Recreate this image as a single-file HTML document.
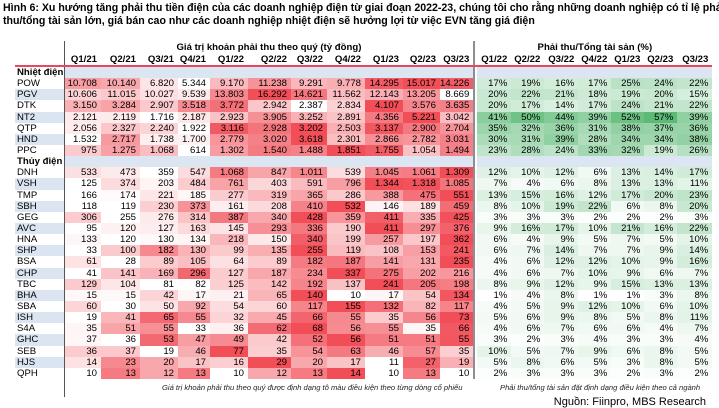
<!DOCTYPE html>
<html><head><meta charset="utf-8">
<style>
html,body{margin:0;padding:0;background:#fff;width:719px;height:408px;overflow:hidden}
body{font-family:"Liberation Sans",Arial,sans-serif;color:#000;position:relative}
.title{position:absolute;left:3px;top:2px;font-size:10.6px;font-weight:bold;line-height:12.5px;width:716px;white-space:nowrap}
table{position:absolute;left:15px;top:41px;border-collapse:collapse;table-layout:fixed;font-size:9.6px}
td{padding:0;height:11.15px;line-height:11px;white-space:nowrap;overflow:hidden}
td.v{text-align:right;padding-right:4px}
td.g{text-align:right;padding-right:4px}
tr.h1 td{height:13px;font-weight:bold;text-align:center}
tr.h2 td{height:11px;font-weight:bold;text-align:right;padding-right:4px;border-bottom:2px solid #e8475f}
td.t{padding-left:2px;text-align:left}
tr.alt td.t{background:#dbe5f1}
tr.sec td{background:#dce6f2}
tr.sec td.t{background:#fff;font-weight:bold}
td.sep{border-left:2px solid #8a8f96;background:#fff!important}
td.lb{border-left:1px solid #555}
.fn{position:absolute;font-size:7.6px;font-style:italic;color:#222;white-space:nowrap}
.src{position:absolute;right:13px;top:396px;font-size:11px;white-space:nowrap}
</style></head><body>
<div class="title">Hình 6: Xu hướng tăng phải thu tiền điện của các doanh nghiệp điện từ giai đoạn 2022-23, chúng tôi cho rằng những doanh nghiệp có tỉ lệ phải<br>thu/tổng tài sản lớn, giá bán cao như các doanh nghiệp nhiệt điện sẽ hưởng lợi từ việc EVN tăng giá điện</div>
<table id="tb">
<colgroup><col style="width:49px"><col style="width:37px"><col style="width:39px"><col style="width:38px"><col style="width:32px"><col style="width:38px"><col style="width:43px"><col style="width:36px"><col style="width:38px"><col style="width:38px"><col style="width:37px"><col style="width:34px"><col style="width:3px"><col style="width:34px"><col style="width:33px"><col style="width:34px"><col style="width:33px"><col style="width:33px"><col style="width:33px"><col style="width:35px"></colgroup>
<tr class="h1"><td></td><td class="lb" colspan="11">Giá trị khoản phải thu theo quý (tỷ đồng)</td><td class="sep"></td><td colspan="7">Phải thu/Tổng tài sản (%)</td></tr>
<tr class="h2"><td style="padding:0"></td><td class="lb">Q1/21</td><td>Q2/21</td><td>Q3/21</td><td>Q4/21</td><td>Q1/22</td><td>Q2/22</td><td>Q3/22</td><td>Q4/22</td><td>Q1/23</td><td>Q2/23</td><td>Q3/23</td><td class="sep" style="padding:0"></td><td>Q1/22</td><td>Q2/22</td><td>Q3/22</td><td>Q4/22</td><td>Q1/23</td><td>Q2/23</td><td>Q3/23</td></tr>
<tr class="sec"><td class="t">Nhiệt điện</td><td class="lb" colspan="11"></td><td class="sep"></td><td colspan="7"></td></tr>
<tr class="r"><td class="t">POW</td><td class="v lb">10.708</td><td class="v">10.140</td><td class="v">6.820</td><td class="v">5.344</td><td class="v">9.170</td><td class="v">11.238</td><td class="v">9.291</td><td class="v">9.778</td><td class="v">14.295</td><td class="v">15.017</td><td class="v">14.226</td><td class="sep"></td><td class="g">17%</td><td class="g">19%</td><td class="g">16%</td><td class="g">17%</td><td class="g">25%</td><td class="g">24%</td><td class="g">22%</td></tr>
<tr class="r alt"><td class="t">PGV</td><td class="v lb">10.606</td><td class="v">11.015</td><td class="v">10.027</td><td class="v">9.539</td><td class="v">13.803</td><td class="v">16.292</td><td class="v">14.621</td><td class="v">11.562</td><td class="v">12.143</td><td class="v">13.205</td><td class="v">8.669</td><td class="sep"></td><td class="g">20%</td><td class="g">22%</td><td class="g">21%</td><td class="g">18%</td><td class="g">19%</td><td class="g">20%</td><td class="g">15%</td></tr>
<tr class="r"><td class="t">DTK</td><td class="v lb">3.150</td><td class="v">3.284</td><td class="v">2.907</td><td class="v">3.518</td><td class="v">3.772</td><td class="v">2.942</td><td class="v">2.387</td><td class="v">2.834</td><td class="v">4.107</td><td class="v">3.576</td><td class="v">3.635</td><td class="sep"></td><td class="g">20%</td><td class="g">17%</td><td class="g">14%</td><td class="g">17%</td><td class="g">24%</td><td class="g">21%</td><td class="g">22%</td></tr>
<tr class="r alt"><td class="t">NT2</td><td class="v lb">2.121</td><td class="v">2.119</td><td class="v">1.716</td><td class="v">2.187</td><td class="v">2.923</td><td class="v">3.905</td><td class="v">3.252</td><td class="v">2.891</td><td class="v">4.356</td><td class="v">5.221</td><td class="v">3.042</td><td class="sep"></td><td class="g">41%</td><td class="g">50%</td><td class="g">44%</td><td class="g">39%</td><td class="g">52%</td><td class="g">57%</td><td class="g">39%</td></tr>
<tr class="r"><td class="t">QTP</td><td class="v lb">2.056</td><td class="v">2.327</td><td class="v">2.240</td><td class="v">1.922</td><td class="v">3.116</td><td class="v">2.928</td><td class="v">3.202</td><td class="v">2.503</td><td class="v">3.137</td><td class="v">2.900</td><td class="v">2.704</td><td class="sep"></td><td class="g">35%</td><td class="g">32%</td><td class="g">36%</td><td class="g">31%</td><td class="g">38%</td><td class="g">37%</td><td class="g">36%</td></tr>
<tr class="r alt"><td class="t">HND</td><td class="v lb">1.532</td><td class="v">2.717</td><td class="v">1.738</td><td class="v">1.700</td><td class="v">2.779</td><td class="v">3.020</td><td class="v">3.618</td><td class="v">2.301</td><td class="v">2.866</td><td class="v">2.782</td><td class="v">3.031</td><td class="sep"></td><td class="g">30%</td><td class="g">31%</td><td class="g">39%</td><td class="g">28%</td><td class="g">34%</td><td class="g">34%</td><td class="g">38%</td></tr>
<tr class="r"><td class="t">PPC</td><td class="v lb">975</td><td class="v">1.275</td><td class="v">1.068</td><td class="v">614</td><td class="v">1.302</td><td class="v">1.540</td><td class="v">1.488</td><td class="v">1.851</td><td class="v">1.755</td><td class="v">1.054</td><td class="v">1.494</td><td class="sep"></td><td class="g">23%</td><td class="g">28%</td><td class="g">24%</td><td class="g">33%</td><td class="g">32%</td><td class="g">19%</td><td class="g">26%</td></tr>
<tr class="sec"><td class="t">Thủy điện</td><td class="lb" colspan="11"></td><td class="sep"></td><td colspan="7"></td></tr>
<tr class="r"><td class="t">DNH</td><td class="v lb">533</td><td class="v">473</td><td class="v">359</td><td class="v">547</td><td class="v">1.068</td><td class="v">847</td><td class="v">1.011</td><td class="v">539</td><td class="v">1.045</td><td class="v">1.061</td><td class="v">1.309</td><td class="sep"></td><td class="g">12%</td><td class="g">10%</td><td class="g">12%</td><td class="g">6%</td><td class="g">13%</td><td class="g">14%</td><td class="g">17%</td></tr>
<tr class="r alt"><td class="t">VSH</td><td class="v lb">125</td><td class="v">374</td><td class="v">203</td><td class="v">484</td><td class="v">761</td><td class="v">403</td><td class="v">591</td><td class="v">796</td><td class="v">1.344</td><td class="v">1.318</td><td class="v">1.085</td><td class="sep"></td><td class="g">7%</td><td class="g">4%</td><td class="g">6%</td><td class="g">8%</td><td class="g">13%</td><td class="g">13%</td><td class="g">11%</td></tr>
<tr class="r"><td class="t">TMP</td><td class="v lb">166</td><td class="v">174</td><td class="v">221</td><td class="v">185</td><td class="v">277</td><td class="v">319</td><td class="v">365</td><td class="v">286</td><td class="v">388</td><td class="v">475</td><td class="v">551</td><td class="sep"></td><td class="g">13%</td><td class="g">15%</td><td class="g">16%</td><td class="g">12%</td><td class="g">17%</td><td class="g">20%</td><td class="g">23%</td></tr>
<tr class="r alt"><td class="t">SBH</td><td class="v lb">118</td><td class="v">119</td><td class="v">230</td><td class="v">373</td><td class="v">161</td><td class="v">208</td><td class="v">410</td><td class="v">532</td><td class="v">146</td><td class="v">189</td><td class="v">459</td><td class="sep"></td><td class="g">8%</td><td class="g">10%</td><td class="g">19%</td><td class="g">22%</td><td class="g">6%</td><td class="g">8%</td><td class="g">20%</td></tr>
<tr class="r"><td class="t">GEG</td><td class="v lb">306</td><td class="v">255</td><td class="v">276</td><td class="v">314</td><td class="v">387</td><td class="v">340</td><td class="v">428</td><td class="v">359</td><td class="v">411</td><td class="v">335</td><td class="v">425</td><td class="sep"></td><td class="g">3%</td><td class="g">3%</td><td class="g">3%</td><td class="g">2%</td><td class="g">2%</td><td class="g">2%</td><td class="g">3%</td></tr>
<tr class="r alt"><td class="t">AVC</td><td class="v lb">95</td><td class="v">120</td><td class="v">127</td><td class="v">163</td><td class="v">145</td><td class="v">293</td><td class="v">336</td><td class="v">190</td><td class="v">411</td><td class="v">297</td><td class="v">376</td><td class="sep"></td><td class="g">9%</td><td class="g">16%</td><td class="g">17%</td><td class="g">10%</td><td class="g">21%</td><td class="g">16%</td><td class="g">22%</td></tr>
<tr class="r"><td class="t">HNA</td><td class="v lb">133</td><td class="v">120</td><td class="v">130</td><td class="v">134</td><td class="v">218</td><td class="v">150</td><td class="v">340</td><td class="v">199</td><td class="v">257</td><td class="v">197</td><td class="v">362</td><td class="sep"></td><td class="g">6%</td><td class="g">4%</td><td class="g">9%</td><td class="g">5%</td><td class="g">7%</td><td class="g">5%</td><td class="g">10%</td></tr>
<tr class="r alt"><td class="t">SHP</td><td class="v lb">33</td><td class="v">100</td><td class="v">182</td><td class="v">130</td><td class="v">99</td><td class="v">135</td><td class="v">255</td><td class="v">119</td><td class="v">108</td><td class="v">153</td><td class="v">241</td><td class="sep"></td><td class="g">6%</td><td class="g">7%</td><td class="g">14%</td><td class="g">7%</td><td class="g">7%</td><td class="g">9%</td><td class="g">14%</td></tr>
<tr class="r"><td class="t">BSA</td><td class="v lb">61</td><td class="v">28</td><td class="v">89</td><td class="v">105</td><td class="v">64</td><td class="v">89</td><td class="v">182</td><td class="v">187</td><td class="v">141</td><td class="v">131</td><td class="v">235</td><td class="sep"></td><td class="g">4%</td><td class="g">6%</td><td class="g">12%</td><td class="g">12%</td><td class="g">10%</td><td class="g">9%</td><td class="g">16%</td></tr>
<tr class="r alt"><td class="t">CHP</td><td class="v lb">41</td><td class="v">141</td><td class="v">169</td><td class="v">296</td><td class="v">127</td><td class="v">187</td><td class="v">234</td><td class="v">337</td><td class="v">275</td><td class="v">202</td><td class="v">216</td><td class="sep"></td><td class="g">4%</td><td class="g">6%</td><td class="g">7%</td><td class="g">10%</td><td class="g">9%</td><td class="g">6%</td><td class="g">7%</td></tr>
<tr class="r"><td class="t">TBC</td><td class="v lb">129</td><td class="v">104</td><td class="v">81</td><td class="v">82</td><td class="v">125</td><td class="v">142</td><td class="v">192</td><td class="v">137</td><td class="v">241</td><td class="v">205</td><td class="v">198</td><td class="sep"></td><td class="g">8%</td><td class="g">9%</td><td class="g">12%</td><td class="g">9%</td><td class="g">15%</td><td class="g">13%</td><td class="g">13%</td></tr>
<tr class="r alt"><td class="t">BHA</td><td class="v lb">15</td><td class="v">15</td><td class="v">42</td><td class="v">17</td><td class="v">21</td><td class="v">65</td><td class="v">140</td><td class="v">10</td><td class="v">17</td><td class="v">54</td><td class="v">134</td><td class="sep"></td><td class="g">1%</td><td class="g">4%</td><td class="g">8%</td><td class="g">1%</td><td class="g">1%</td><td class="g">3%</td><td class="g">8%</td></tr>
<tr class="r"><td class="t">SBA</td><td class="v lb">60</td><td class="v">30</td><td class="v">50</td><td class="v">92</td><td class="v">54</td><td class="v">60</td><td class="v">117</td><td class="v">155</td><td class="v">132</td><td class="v">82</td><td class="v">117</td><td class="sep"></td><td class="g">4%</td><td class="g">5%</td><td class="g">9%</td><td class="g">12%</td><td class="g">10%</td><td class="g">6%</td><td class="g">10%</td></tr>
<tr class="r alt"><td class="t">ISH</td><td class="v lb">19</td><td class="v">41</td><td class="v">65</td><td class="v">55</td><td class="v">32</td><td class="v">45</td><td class="v">66</td><td class="v">55</td><td class="v">35</td><td class="v">56</td><td class="v">73</td><td class="sep"></td><td class="g">5%</td><td class="g">6%</td><td class="g">9%</td><td class="g">8%</td><td class="g">5%</td><td class="g">8%</td><td class="g">11%</td></tr>
<tr class="r"><td class="t">S4A</td><td class="v lb">35</td><td class="v">51</td><td class="v">55</td><td class="v">33</td><td class="v">36</td><td class="v">62</td><td class="v">68</td><td class="v">56</td><td class="v">55</td><td class="v">35</td><td class="v">66</td><td class="sep"></td><td class="g">4%</td><td class="g">6%</td><td class="g">7%</td><td class="g">6%</td><td class="g">6%</td><td class="g">4%</td><td class="g">7%</td></tr>
<tr class="r alt"><td class="t">GHC</td><td class="v lb">37</td><td class="v">36</td><td class="v">53</td><td class="v">47</td><td class="v">49</td><td class="v">42</td><td class="v">52</td><td class="v">56</td><td class="v">51</td><td class="v">51</td><td class="v">55</td><td class="sep"></td><td class="g">3%</td><td class="g">2%</td><td class="g">3%</td><td class="g">4%</td><td class="g">3%</td><td class="g">3%</td><td class="g">4%</td></tr>
<tr class="r"><td class="t">SEB</td><td class="v lb">36</td><td class="v">37</td><td class="v">19</td><td class="v">46</td><td class="v">77</td><td class="v">35</td><td class="v">54</td><td class="v">63</td><td class="v">46</td><td class="v">57</td><td class="v">35</td><td class="sep"></td><td class="g">10%</td><td class="g">5%</td><td class="g">7%</td><td class="g">9%</td><td class="g">6%</td><td class="g">8%</td><td class="g">5%</td></tr>
<tr class="r alt"><td class="t">HJS</td><td class="v lb">14</td><td class="v">23</td><td class="v">20</td><td class="v">17</td><td class="v">16</td><td class="v">29</td><td class="v">20</td><td class="v">17</td><td class="v">11</td><td class="v">27</td><td class="v">19</td><td class="sep"></td><td class="g">5%</td><td class="g">8%</td><td class="g">6%</td><td class="g">5%</td><td class="g">3%</td><td class="g">8%</td><td class="g">5%</td></tr>
<tr class="r"><td class="t">QPH</td><td class="v lb">10</td><td class="v">13</td><td class="v">12</td><td class="v">13</td><td class="v">10</td><td class="v">12</td><td class="v">13</td><td class="v">14</td><td class="v">10</td><td class="v">13</td><td class="v">10</td><td class="sep"></td><td class="g">2%</td><td class="g">3%</td><td class="g">3%</td><td class="g">3%</td><td class="g">2%</td><td class="g">3%</td><td class="g">2%</td></tr>
<tr><td style="height:18px"></td><td class="lb" colspan="11"></td><td></td><td colspan="7"></td></tr>
</table>
<div class="fn" style="left:162px;top:383px">Giá trị khoản phải thu theo quý được định dạng tô màu điều kiện theo từng dòng cổ phiếu</div>
<div class="fn" style="left:500px;top:383px">Phải thu/tổng tài sản đặt định dạng điều kiện theo cả ngành</div>
<div class="src">Nguồn: Fiinpro, MBS Research</div>
<script>
function mix(a,b,t){return 'rgb('+a.map(function(x,i){return Math.round(x+(b[i]-x)*t)}).join(',')+')';}
var W=[255,255,255],R=[241,78,88],G=[92,186,118];
var rows=document.querySelectorAll('tr.r');
var gAll=document.querySelectorAll('td.g'),gmin=1e9,gmax=-1e9;
gAll.forEach(function(c){var v=parseFloat(c.textContent);gmin=Math.min(gmin,v);gmax=Math.max(gmax,v);});
gAll.forEach(function(c){var v=parseFloat(c.textContent);c.style.background=mix(W,G,(v-gmin)/(gmax-gmin));});
rows.forEach(function(r){var cs=r.querySelectorAll('td.v'),vals=[];cs.forEach(function(c){vals.push(parseFloat(c.textContent.replace(/\./g,'')));});
var mn=Math.min.apply(null,vals),mx=Math.max.apply(null,vals);
cs.forEach(function(c,i){c.style.background=mix(W,R,mx>mn?(vals[i]-mn)/(mx-mn):0);});});
</script>
</body></html>
